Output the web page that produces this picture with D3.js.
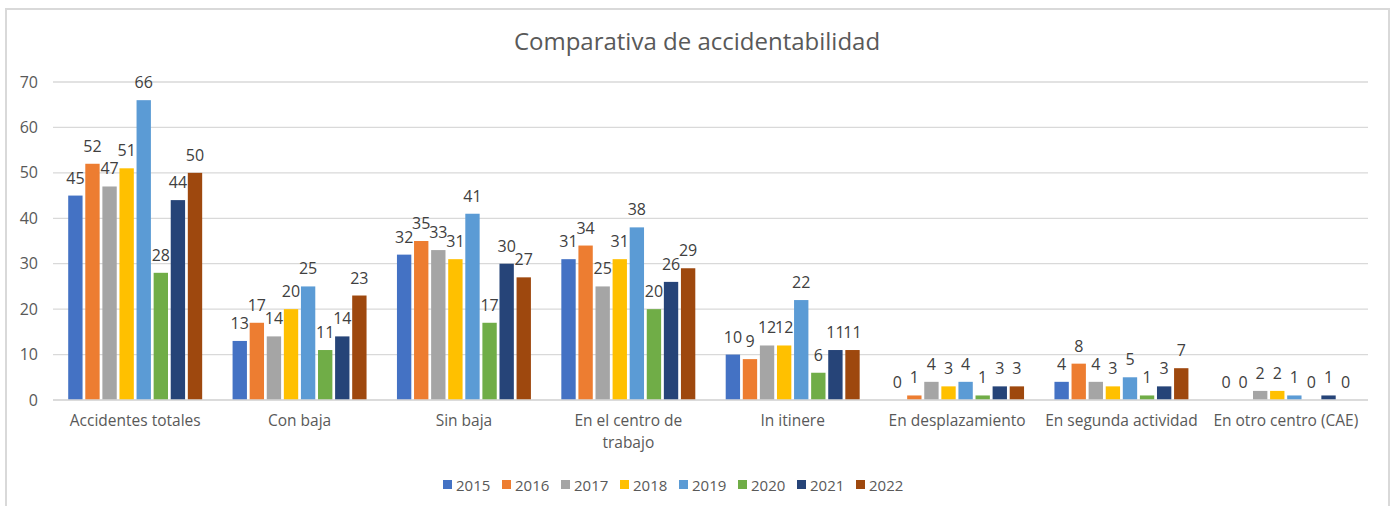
<!DOCTYPE html>
<html>
<head>
<meta charset="utf-8">
<script src="https://cdn.jsdelivr.net/npm/d3@7"></script>
<style>
html,body{margin:0;padding:0;background:#fff;}
svg{display:block;font-family:"Open Sans", Lato, sans-serif;}
</style>
</head>
<body>
<svg id="chart" width="1395" height="506"></svg>
<script>
const categories = ["Accidentes totales","Con baja","Sin baja","En el centro de trabajo","In itinere","En desplazamiento","En segunda actividad","En otro centro (CAE)"];
const years = ["2015","2016","2017","2018","2019","2020","2021","2022"];
const v2015 = [45,13,32,31,10,0,4,0];
const v2016 = [52,17,35,34,9,1,8,0];
const v2017 = [47,14,33,25,12,4,4,2];
const v2018 = [51,20,31,31,12,3,3,2];
const v2019 = [66,25,41,38,22,4,5,1];
const v2020 = [28,11,17,20,6,1,1,0];
const v2021 = [44,14,30,26,11,3,3,1];
const v2022 = [50,23,27,29,11,3,7,0];
const yTicks = [0,10,20,30,40,50,60,70];
const colors = ["#4472C4","#ED7D31","#A5A5A5","#FFC000","#5B9BD5","#70AD47","#264478","#9E480E"];
const title = "Comparativa de accidentabilidad";

const seriesValues = [v2015,v2016,v2017,v2018,v2019,v2020,v2021,v2022];
const series = years.map((y,i)=>({year:y, color:colors[i], values:seriesValues[i]}));

const FONT = "'Open Sans', Lato, sans-serif";
const svg = d3.select("#chart");
const plot = {left:53, right:1368, top:82, bottom:400};

// chart border
svg.append("rect").attr("x",6).attr("y",9).attr("width",1383).attr("height",520)
  .attr("fill","#fff").attr("stroke","#d9d9d9").attr("stroke-width",2);

const x = d3.scaleBand().domain(categories).range([plot.left, plot.right])
  .paddingInner(0.185).paddingOuter(0.0925);
const xs = d3.scaleBand().domain(years).range([0, x.bandwidth()]).paddingInner(0.16).paddingOuter(0);
const y = d3.scaleLinear().domain([0,70]).range([plot.bottom, plot.top]);

// gridlines
svg.append("g").selectAll("line").data(yTicks).join("line")
  .attr("x1",plot.left).attr("x2",plot.right)
  .attr("y1",d=>y(d)).attr("y2",d=>y(d))
  .attr("stroke","#d9d9d9").attr("stroke-width",1.3);

// y axis labels
const yAxis = d3.axisLeft(y).tickValues(yTicks).tickSize(0).tickPadding(15);
const gy = svg.append("g").attr("transform",`translate(${plot.left},0)`).call(yAxis);
gy.select(".domain").remove();
gy.selectAll("text").attr("fill","#595959").style("font-size","16px").style("font-family",FONT);

// bars
const gCat = svg.append("g").selectAll("g").data(categories).join("g")
  .attr("transform",d=>`translate(${x(d)},0)`);
gCat.each(function(cat, ci){
  const g = d3.select(this);
  series.forEach(s=>{
    const val = s.values[ci];
    g.append("rect")
      .attr("x",xs(s.year)).attr("width",xs.bandwidth())
      .attr("y",y(val)).attr("height",y(0)-y(val))
      .attr("fill",s.color);
    g.append("text")
      .attr("x",xs(s.year)+xs.bandwidth()/2)
      .attr("y",y(val)-12)
      .attr("text-anchor","middle")
      .attr("fill","#404040")
      .style("font-size","16px")
      .text(val);
  });
});

// x axis baseline
svg.append("line").attr("x1",plot.left).attr("x2",plot.right)
  .attr("y1",y(0)).attr("y2",y(0)).attr("stroke","#d9d9d9").attr("stroke-width",1.3);

// x axis labels
const xAxis = d3.axisBottom(x).tickSize(0).tickPadding(15);
const gx = svg.append("g").attr("transform",`translate(0,${plot.bottom})`).call(xAxis);
gx.select(".domain").remove();
gx.selectAll("text").attr("fill","#595959").style("font-size","15.5px").style("font-family",FONT)
  .each(function(){
    const t = d3.select(this);
    const words = t.text().split(" ");
    const maxW = x.step() - 4;
    if (this.getComputedTextLength() <= maxW) return;
    const dy = parseFloat(t.attr("dy")) || 0;
    t.text(null);
    let line = [];
    let ts = t.append("tspan").attr("x",0).attr("dy",dy+"em");
    words.forEach(w=>{
      line.push(w);
      ts.text(line.join(" "));
      if (ts.node().getComputedTextLength() > maxW && line.length>1){
        line.pop(); ts.text(line.join(" "));
        line=[w];
        ts = t.append("tspan").attr("x",0).attr("dy","1.42em").text(w);
      }
    });
  });

// title
svg.append("text").attr("x",697).attr("y",50).attr("text-anchor","middle")
  .attr("fill","#595959").style("font-size","24px").text(title);

// legend
const lg = svg.append("g").selectAll("g").data(series).join("g")
  .attr("transform",(d,i)=>`translate(${443 + i*59},485)`);
lg.append("rect").attr("x",0).attr("y",-5).attr("width",9).attr("height",9).attr("fill",d=>d.color);
lg.append("text").attr("x",13).attr("y",5.5).attr("fill","#595959").style("font-size","15px").text(d=>d.year);
</script>
</body>
</html>
